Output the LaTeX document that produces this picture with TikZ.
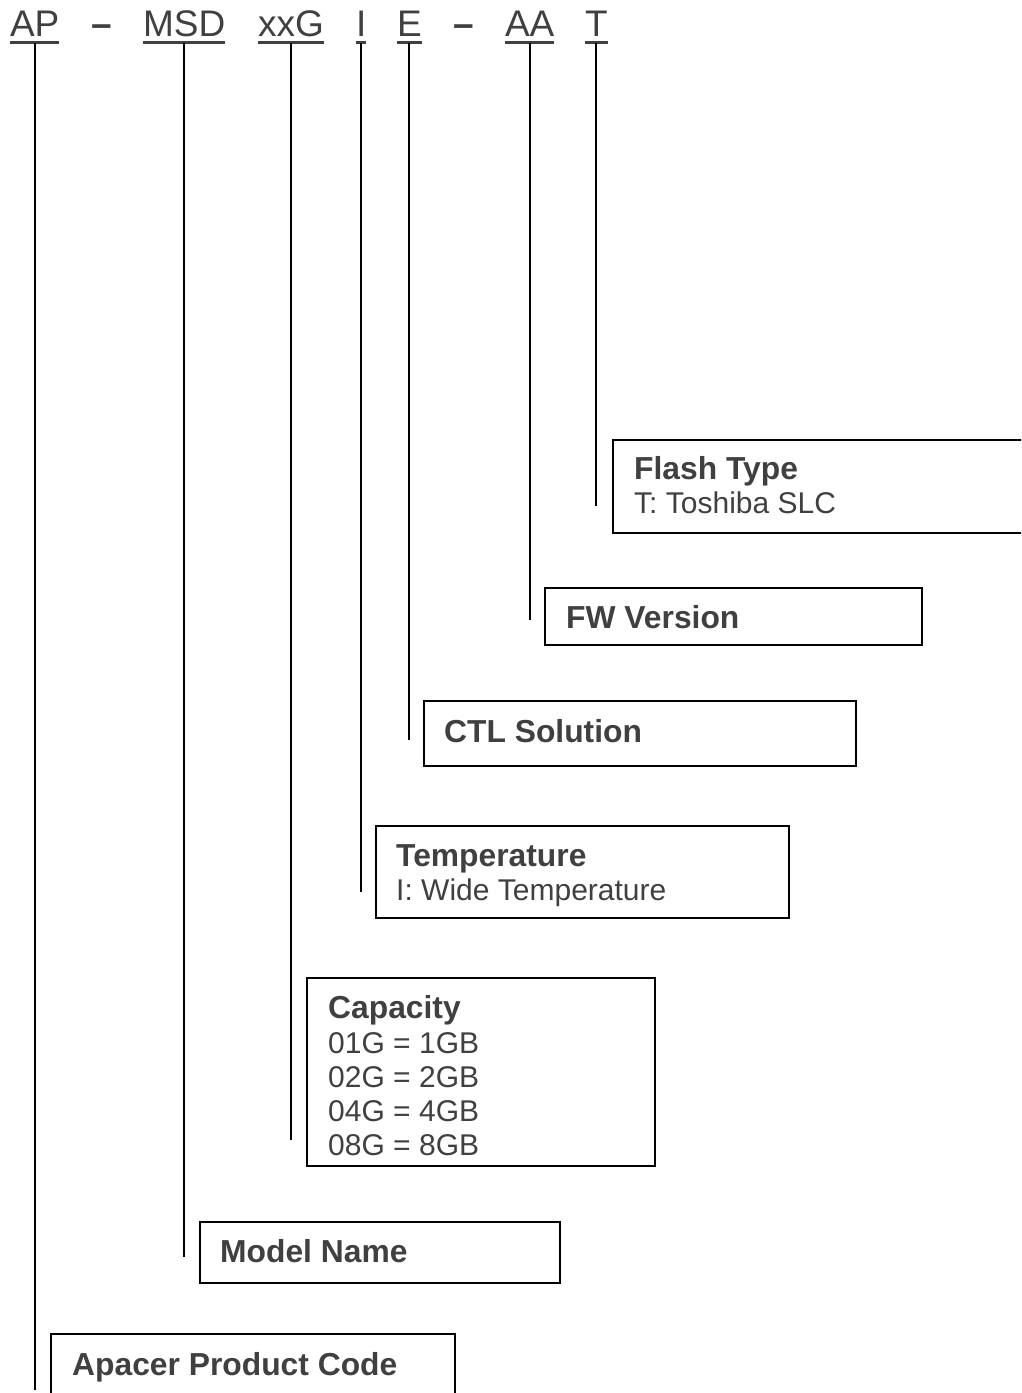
\documentclass[tikz,border=0pt]{standalone}
\usepackage{fontspec}
\setmainfont{Liberation Sans}
\definecolor{txt}{HTML}{404040}
\begin{document}
\begin{tikzpicture}[x=1pt,y=-1pt,
  tok/.style={anchor=base west,inner sep=0pt,outer sep=0pt,text=txt,font=\fontsize{37}{44}\selectfont},
  ul/.style={draw=txt,line width=3pt},
  conn/.style={draw=black,line width=2pt},
  box/.style={draw=black,line width=2pt,anchor=north west,inner sep=0pt},
  head/.style={anchor=base west,inner sep=0pt,text=txt,font=\fontsize{31.8}{36}\selectfont\bfseries},
  body/.style={anchor=base west,inner sep=0pt,text=txt,font=\fontsize{30}{34}\selectfont}]
\useasboundingbox (0,0) rectangle (1021,1393);
\clip (0,0) rectangle (1021,1393);
% top row tokens
\node[tok] (ap) at (10,36) {AP};
\node[tok] (d1) at (91,36) {\textbf{–}};
\node[tok] (msd) at (143,36) {MSD};
\node[tok] (xxg) at (258,36) {xxG};
\node[tok] (i) at (356,36) {I};
\node[tok] (e) at (397,36) {E};
\node[tok] (d2) at (453,36) {\textbf{–}};
\node[tok] (aa) at (505,36) {AA};
\node[tok] (t) at (585,36) {T};
\foreach \n in {ap,msd,xxg,i,e,aa,t}{
  \draw[ul] ([yshift=-6pt]\n.base west) -- ([yshift=-6pt]\n.base east);
}
% boxes
\node[box,minimum width=418pt,minimum height=93pt] (ftbox) at (612,439) {};
\node[box,minimum width=377pt,minimum height=57pt] (fwbox) at (544,587) {};
\node[box,minimum width=432pt,minimum height=65pt] (ctlbox) at (423,700) {};
\node[box,minimum width=413pt,minimum height=92pt] (tempbox) at (375,825) {};
\node[box,minimum width=348pt,minimum height=188pt] (capbox) at (306,977) {};
\node[box,minimum width=360pt,minimum height=61pt] (modelbox) at (199,1221) {};
\node[box,minimum width=404pt,minimum height=70pt] (apbox) at (50,1333) {};
% texts
\node[head] (fth) at (634,479) {Flash Type};
\node[body] (ftb) at (634,513) {T: Toshiba SLC};
\node[head] (fwh) at (566,628) {FW Version};
\node[head] (ctlh) at (444,742) {CTL Solution};
\node[head] (temph) at (396,866) {Temperature};
\node[body] (tempb) at (396,900) {I: Wide Temperature};
\node[head] (caph) at (328,1018) {Capacity};
\node[body] (cap1) at (328,1053) {01G = 1GB};
\node[body] (cap2) at (328,1087) {02G = 2GB};
\node[body] (cap3) at (328,1121) {04G = 4GB};
\node[body] (cap4) at (328,1155) {08G = 8GB};
\node[head] (modelh) at (220,1262) {Model Name};
\node[head] (aph) at (72,1375) {Apacer Product Code};
% connector ends
\coordinate (tEnd) at (0,506);
\coordinate (aaEnd) at (0,620);
\coordinate (eEnd) at (0,740);
\coordinate (iEnd) at (0,892);
\coordinate (xxgEnd) at (0,1140);
\coordinate (msdEnd) at (0,1257);
\coordinate (apEnd) at (0,1390);
\foreach \n in {ap,msd,xxg,i,e,aa,t}{
  \draw[conn] ([yshift=-7pt]\n.base) -- (\n.base |- \n End);
}
\end{tikzpicture}
\end{document}
